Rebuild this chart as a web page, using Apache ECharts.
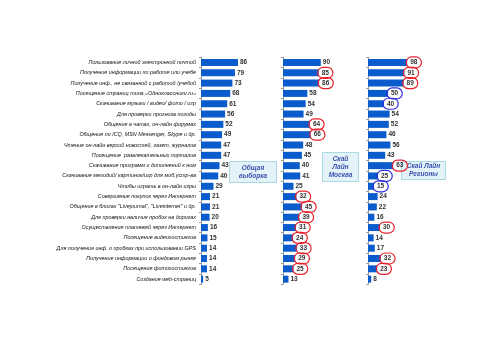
<!DOCTYPE html>
<html><head><meta charset="utf-8">
<script src="https://cdn.jsdelivr.net/npm/echarts@6/dist/echarts.min.js"></script>
<style>html,body{margin:0;padding:0;background:#fff}#c{width:500px;height:337px}</style>
</head><body><div id="c"></div>
<script>
const categories = [
  'Пользование личной электронной почтой',
  'Получение информации по работе или учебе',
  'Получение инф., не связанной с работой /учебой',
  'Посещение страниц типа «Одноклассники.ru»',
  'Скачивание музыки / видео/ фото / игр',
  'Для проверки прогноза погоды',
  'Общение в чатах, он-лайн форумах',
  'Общение по ICQ, MSN Messenger, Skype и др.',
  'Чтение он-лайн версий новостей, газет, журналов',
  'Посещение  развлекательных порталов',
  'Скачивание программ и дополнений к ним',
  'Скачивание мелодий/ картинок/игр для моб.устр-ва',
  'Чтобы играть в он-лайн игры',
  'Совершение покупок через Интернет',
  'Общение в блогах "Livejournal", "Liveinternet" и др.',
  'Для проверки наличия пробок на дорогах',
  'Осуществление платежей через Интернет',
  'Посещение видеохостингов',
  'Для получения инф. о пробках при использовании GPS',
  'Получение информации о фондовом рынке',
  'Посещение фотохостингов',
  'Создание web-страниц'
];
const totalValues  = [86,79,73,68,61,56,52,49,47,47,43,40,29,21,21,20,16,15,14,14,14,5];
const moscowValues = [90,85,86,58,54,49,64,66,48,45,40,41,25,32,45,39,31,24,33,29,25,13];
const regionValues = [98,91,89,50,40,54,52,46,56,43,63,25,15,24,22,16,30,14,17,32,23,8];
// significance marks: 'r' = higher (red ring), 'b' = lower (blue ring)
const moscowMarks  = ['','r','r','','','','r','r','','','','','','r','r','r','r','r','r','r','r',''];
const regionMarks  = ['r','r','r','b','b','','','','','','r','b','b','','','','r','','','r','r',''];
const panelTitles = ['Общая\nвыборка', 'Скай\nЛайн\nМосква', 'Скай Лайн\nРегионы'];

const BAR = '#0a5ccc';
const gTop = 57.3, gHeight = 227;
const grids = [
  {left: 201, top: gTop, width: 43, height: gHeight},
  {left: 283, top: gTop, width: 42, height: gHeight},
  {left: 368, top: gTop, width: 40, height: gHeight}
];
function mkData(vals, marks){
  return vals.map((v,i)=>{
    const m = marks ? marks[i] : '';
    if(!m) return v;
    return {value: v, label: {
      borderColor: m === 'r' ? '#e8202a' : '#2a2ae0',
      borderWidth: 1.2, borderRadius: 8, padding: [2,4,2,4], offset: [-3,0]
    }};
  });
}
const panels = [[totalValues,null],[moscowValues,moscowMarks],[regionValues,regionMarks]];
const option = {
  animation: false,
  backgroundColor: '#fff',
  grid: grids,
  xAxis: grids.map((g,i)=>({type:'value', gridIndex:i, min:0, max:100, show:false})),
  yAxis: grids.map((g,i)=>({
    type:'category', gridIndex:i, data: categories, inverse:true,
    axisLine:{show:true, lineStyle:{color:'#9a9a9a', width:1}},
    axisTick:{show:true, length:2, lineStyle:{color:'#9a9a9a'}},
    axisLabel:{show: i===0, fontFamily:'Liberation Sans', fontStyle:'italic', fontSize:5.4, color:'#111', margin:5}
  })),
  series: panels.map((p,i)=>({
    type:'bar', xAxisIndex:i, yAxisIndex:i, barWidth:7,
    itemStyle:{color:BAR},
    data: mkData(p[0], p[1]),
    label:{show:true, position:'right', distance:2, fontFamily:'Liberation Sans', fontSize:6.5, fontWeight:'bold', color:'#333'}
  })),
  graphic: [
    {type:'group', left:229, top:161, children:[
      {type:'rect', shape:{x:0,y:0,width:47,height:21}, style:{fill:'#e3f3f7', stroke:'#a9d9e4', lineWidth:1}},
      {type:'text', style:{x:23.5,y:10.5, text:panelTitles[0], textAlign:'center', textVerticalAlign:'middle', font:'italic bold 6.5px "Liberation Sans"', fill:'#3a4fb0', lineHeight:8}}
    ]},
    {type:'group', left:322, top:152, children:[
      {type:'rect', shape:{x:0,y:0,width:36,height:29}, style:{fill:'#e3f3f7', stroke:'#a9d9e4', lineWidth:1}},
      {type:'text', style:{x:18,y:14.5, text:panelTitles[1], textAlign:'center', textVerticalAlign:'middle', font:'italic bold 6.5px "Liberation Sans"', fill:'#3a4fb0', lineHeight:8}}
    ]},
    {type:'group', left:401, top:161, children:[
      {type:'rect', shape:{x:0,y:0,width:44,height:18}, style:{fill:'#e3f3f7', stroke:'#a9d9e4', lineWidth:1}},
      {type:'text', style:{x:22,y:9, text:panelTitles[2], textAlign:'center', textVerticalAlign:'middle', font:'italic bold 6.5px "Liberation Sans"', fill:'#3a4fb0', lineHeight:8}}
    ]}
  ]
};
echarts.init(document.getElementById('c')).setOption(option);
</script></body></html>
